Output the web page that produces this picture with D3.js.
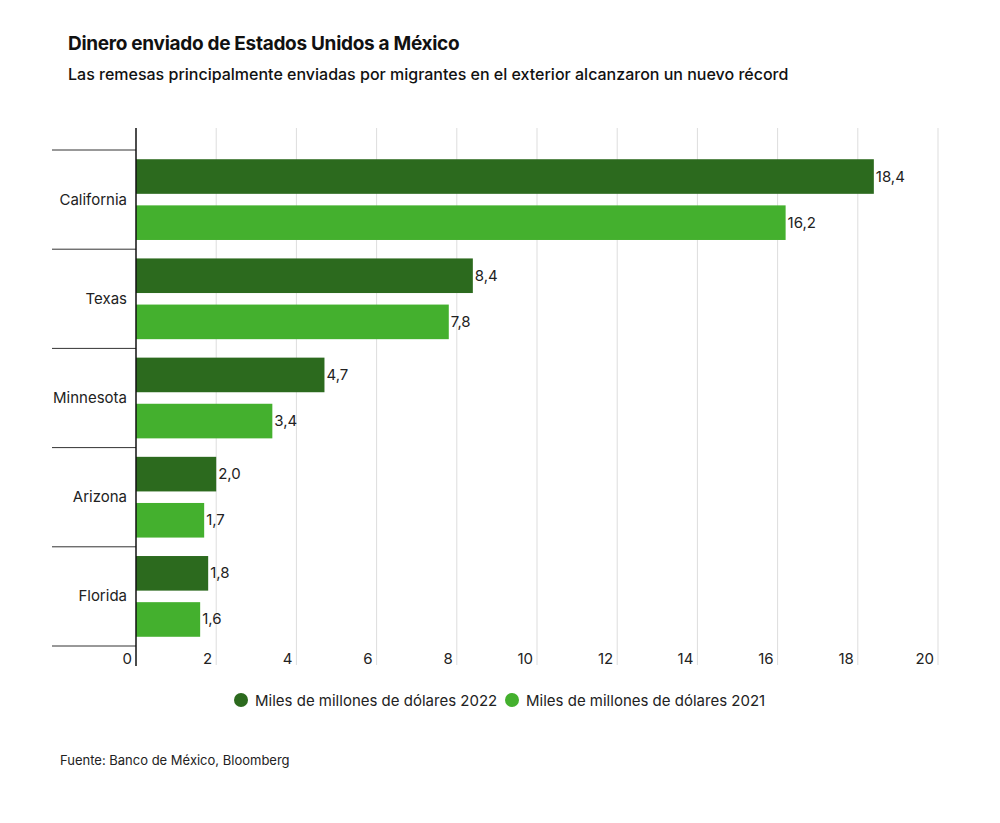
<!DOCTYPE html>
<html><head><meta charset="utf-8">
<script src="https://cdn.jsdelivr.net/npm/d3@7"></script>
<style>body{margin:0;background:#fff;font-family:Inter,"Noto Sans",sans-serif;}</style>
</head><body><svg id="c" width="1000" height="823"></svg>
<script>
const categories=["California","Texas","Minnesota","Arizona","Florida"];
const values2022=[18.4,8.4,4.7,2.0,1.8];
const values2021=[16.2,7.8,3.4,1.7,1.6];
const ticks=[0,2,4,6,8,10,12,14,16,18,20];
const seriesNames=["Miles de millones de dólares 2022","Miles de millones de dólares 2021"];
const colors=["#2c6a1e","#44b02e"];

const svg=d3.select("#c");
const x=d3.scaleLinear().domain([0,20]).range([136,938]);
const y=d3.scaleBand().domain(categories).range([150,646]);
const sub=d3.scaleBand().domain([0,1]).range([0,y.bandwidth()]).paddingInner(0.25).paddingOuter(0.2);

svg.append("text").attr("x",68).attr("y",50).attr("font-size",19).attr("font-weight",700).attr("fill","#111").attr("letter-spacing","-0.3").text("Dinero enviado de Estados Unidos a México");
svg.append("text").attr("x",68).attr("y",80).attr("font-size",16).attr("font-weight",500).attr("fill","#111").text("Las remesas principalmente enviadas por migrantes en el exterior alcanzaron un nuevo récord");

svg.selectAll(".g").data(ticks.slice(1)).enter().append("line")
 .attr("x1",d=>x(d)).attr("x2",d=>x(d)).attr("y1",128).attr("y2",665).attr("stroke","#ddd");
svg.selectAll(".tl").data(ticks).enter().append("text")
 .attr("x",d=>x(d)-4).attr("y",664).attr("text-anchor","end").attr("font-size",15).attr("fill","#222").text(d=>d);

const seps=categories.map(c=>y(c)).concat([y.range()[1]]);
svg.selectAll(".s").data(seps).enter().append("line")
 .attr("x1",52).attr("x2",136).attr("y1",d=>d).attr("y2",d=>d).attr("stroke","#333");
svg.selectAll(".cl").data(categories).enter().append("text")
 .attr("x",127).attr("y",d=>y(d)+y.bandwidth()/2+5).attr("text-anchor","end").attr("font-size",15).attr("fill","#222").text(d=>d);

[values2022,values2021].forEach((vals,si)=>{
 svg.selectAll(".b"+si).data(vals).enter().append("rect")
  .attr("x",x(0)).attr("y",(d,i)=>y(categories[i])+sub(si)).attr("width",d=>x(d)-x(0)).attr("height",sub.bandwidth()).attr("fill",colors[si]);
 svg.selectAll(".v"+si).data(vals).enter().append("text")
  .attr("x",d=>x(d)+2).attr("y",(d,i)=>y(categories[i])+sub(si)+sub.bandwidth()/2+5).attr("font-size",15).attr("fill","#222")
  .text(d=>d.toFixed(1).replace(".",","));
});
svg.append("line").attr("x1",136).attr("x2",136).attr("y1",128).attr("y2",666).attr("stroke","#111").attr("stroke-width",1.5);

const lx=[241,512];
seriesNames.forEach((n,i)=>{
 svg.append("circle").attr("cx",lx[i]).attr("cy",700).attr("r",7).attr("fill",colors[i]);
 svg.append("text").attr("x",lx[i]+14).attr("y",706).attr("font-size",15).attr("fill","#222").text(n);
});
svg.append("text").attr("x",60).attr("y",765).attr("font-size",13).attr("fill","#222").text("Fuente:  Banco de  México, Bloomberg");
</script></body></html>
